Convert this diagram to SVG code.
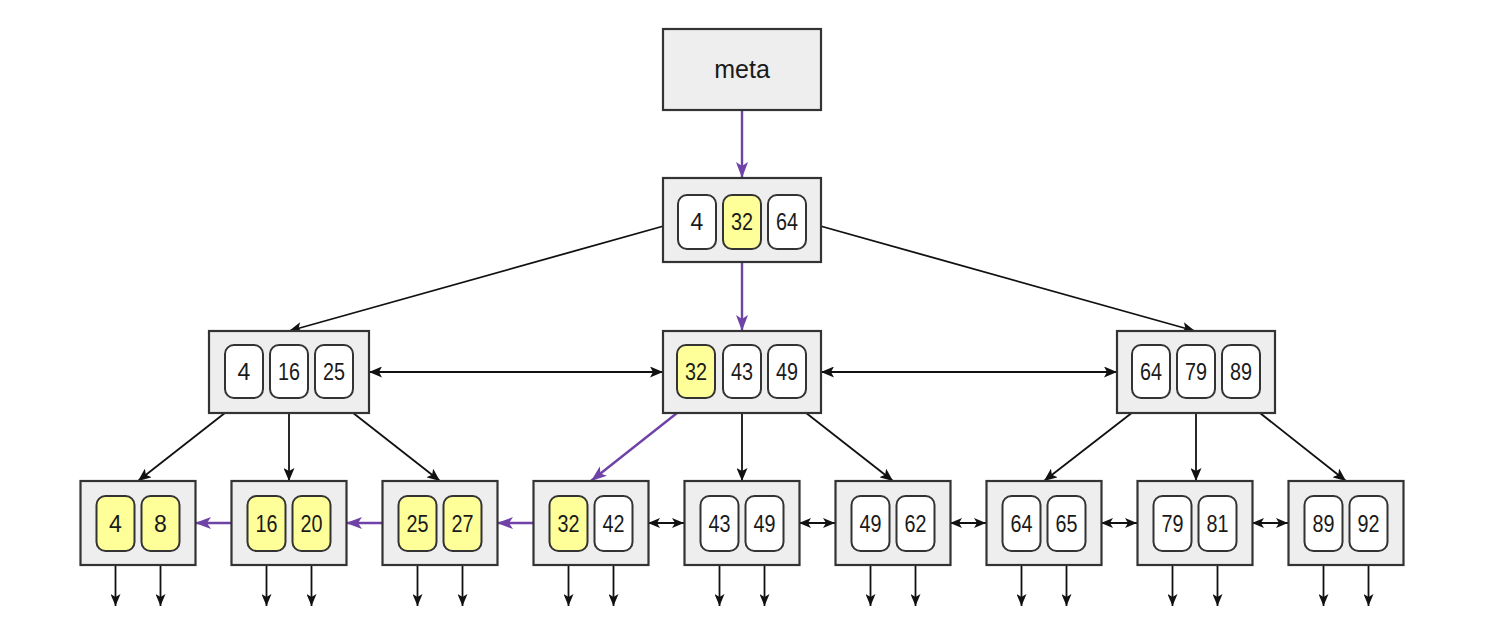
<svg xmlns="http://www.w3.org/2000/svg" width="1498" height="638" viewBox="0 0 1498 638">
<style>
.box{fill:#eeeeee;stroke:#333333;stroke-width:2.2}
.k{fill:#ffffff;stroke:#333333;stroke-width:2}
.y{fill:#ffff99}
.t{font-family:"Liberation Sans",Arial,sans-serif;font-size:23px;fill:#1a1a1a;text-anchor:middle}
.m{font-family:"Liberation Sans",Arial,sans-serif;font-size:25px;fill:#1a1a1a;text-anchor:middle}
.c{fill:none;stroke:#111111;stroke-width:1.8}
.p{fill:none;stroke:#6f42a8;stroke-width:2.4}
</style>
<defs>
<marker id="ab" markerUnits="userSpaceOnUse" markerWidth="13" markerHeight="11" refX="13" refY="5.5" orient="auto-start-reverse" viewBox="0 0 13 11">
<path d="M0,0 L13,5.5 L0,11 L3,5.5 z" fill="#111111"/>
</marker>
<marker id="as" markerUnits="userSpaceOnUse" markerWidth="12" markerHeight="10" refX="12" refY="5" orient="auto-start-reverse" viewBox="0 0 12 10">
<path d="M0,0 L12,5 L0,10 L3,5 z" fill="#111111"/>
</marker>
<marker id="ap" markerUnits="userSpaceOnUse" markerWidth="16" markerHeight="12" refX="16" refY="6" orient="auto" viewBox="0 0 16 12">
<path d="M0,0 L16,6 L0,12 L4,6 z" fill="#6f42a8"/>
</marker>
</defs>

<g id="connectors">
<line class="p" x1="742" y1="110" x2="742" y2="178" marker-end="url(#ap)"/>
<line class="p" x1="742" y1="249" x2="742" y2="331" marker-end="url(#ap)"/>
<line class="c" x1="678" y1="222" x2="289" y2="331" marker-end="url(#ab)"/>
<line class="c" x1="806" y1="222" x2="1195" y2="331" marker-end="url(#ab)"/>
<line class="c" x1="369" y1="372" x2="663" y2="372" marker-start="url(#ab)" marker-end="url(#ab)"/>
<line class="c" x1="821" y1="372" x2="1117" y2="372" marker-start="url(#ab)" marker-end="url(#ab)"/>
<line class="c" x1="244" y1="398" x2="138" y2="481" marker-end="url(#ab)"/>
<line class="c" x1="289" y1="398" x2="289" y2="481" marker-end="url(#ab)"/>
<line class="c" x1="334" y1="398" x2="440" y2="481" marker-end="url(#ab)"/>
<line class="p" x1="696" y1="398" x2="591" y2="481" marker-end="url(#ap)"/>
<line class="c" x1="742" y1="398" x2="742" y2="481" marker-end="url(#ab)"/>
<line class="c" x1="787" y1="398" x2="893" y2="481" marker-end="url(#ab)"/>
<line class="c" x1="1151" y1="398" x2="1044" y2="481" marker-end="url(#ab)"/>
<line class="c" x1="1196" y1="398" x2="1196" y2="481" marker-end="url(#ab)"/>
<line class="c" x1="1241" y1="398" x2="1346" y2="481" marker-end="url(#ab)"/>
<line class="p" x1="231" y1="523" x2="195" y2="523" marker-end="url(#ap)"/>
<line class="p" x1="382" y1="523" x2="346" y2="523" marker-end="url(#ap)"/>
<line class="p" x1="533" y1="523" x2="497" y2="523" marker-end="url(#ap)"/>
<line class="c" x1="648" y1="523" x2="684" y2="523" marker-start="url(#as)" marker-end="url(#as)"/>
<line class="c" x1="799" y1="523" x2="835" y2="523" marker-start="url(#as)" marker-end="url(#as)"/>
<line class="c" x1="950" y1="523" x2="986" y2="523" marker-start="url(#as)" marker-end="url(#as)"/>
<line class="c" x1="1101" y1="523" x2="1137" y2="523" marker-start="url(#as)" marker-end="url(#as)"/>
<line class="c" x1="1252" y1="523" x2="1288" y2="523" marker-start="url(#as)" marker-end="url(#as)"/>
<g id="leaf-pointers">
<line class="c" x1="115.5" y1="551" x2="115.5" y2="606" marker-end="url(#as)"/>
<line class="c" x1="160.5" y1="551" x2="160.5" y2="606" marker-end="url(#as)"/>
<line class="c" x1="266.5" y1="551" x2="266.5" y2="606" marker-end="url(#as)"/>
<line class="c" x1="311.5" y1="551" x2="311.5" y2="606" marker-end="url(#as)"/>
<line class="c" x1="417.5" y1="551" x2="417.5" y2="606" marker-end="url(#as)"/>
<line class="c" x1="462.5" y1="551" x2="462.5" y2="606" marker-end="url(#as)"/>
<line class="c" x1="568.5" y1="551" x2="568.5" y2="606" marker-end="url(#as)"/>
<line class="c" x1="613.5" y1="551" x2="613.5" y2="606" marker-end="url(#as)"/>
<line class="c" x1="719.5" y1="551" x2="719.5" y2="606" marker-end="url(#as)"/>
<line class="c" x1="764.5" y1="551" x2="764.5" y2="606" marker-end="url(#as)"/>
<line class="c" x1="870.5" y1="551" x2="870.5" y2="606" marker-end="url(#as)"/>
<line class="c" x1="915.5" y1="551" x2="915.5" y2="606" marker-end="url(#as)"/>
<line class="c" x1="1021.5" y1="551" x2="1021.5" y2="606" marker-end="url(#as)"/>
<line class="c" x1="1066.5" y1="551" x2="1066.5" y2="606" marker-end="url(#as)"/>
<line class="c" x1="1172.5" y1="551" x2="1172.5" y2="606" marker-end="url(#as)"/>
<line class="c" x1="1217.5" y1="551" x2="1217.5" y2="606" marker-end="url(#as)"/>
<line class="c" x1="1323.5" y1="551" x2="1323.5" y2="606" marker-end="url(#as)"/>
<line class="c" x1="1368.5" y1="551" x2="1368.5" y2="606" marker-end="url(#as)"/>
</g>
</g>

<g id="meta">
<rect class="box" x="663" y="29" width="158" height="81"/>
<text class="m" x="742" y="78">meta</text>
</g>

<g id="root">
<rect class="box" x="663" y="178" width="158" height="84"/>
<rect class="k" x="678" y="195" width="38" height="54" rx="9"/>
<rect class="k y" x="723" y="195" width="38" height="54" rx="9"/>
<rect class="k" x="768" y="195" width="38" height="54" rx="9"/>
<text class="t" x="697" y="230">4</text>
<text class="t" x="742" y="230" textLength="22" lengthAdjust="spacingAndGlyphs">32</text>
<text class="t" x="787" y="230" textLength="22" lengthAdjust="spacingAndGlyphs">64</text>
</g>

<g id="inner-left">
<rect class="box" x="209" y="331" width="160" height="82"/>
<rect class="k" x="225" y="345" width="38" height="53" rx="9"/>
<rect class="k" x="270" y="345" width="38" height="53" rx="9"/>
<rect class="k" x="315" y="345" width="38" height="53" rx="9"/>
<text class="t" x="244" y="380">4</text>
<text class="t" x="289" y="380" textLength="22" lengthAdjust="spacingAndGlyphs">16</text>
<text class="t" x="334" y="380" textLength="22" lengthAdjust="spacingAndGlyphs">25</text>
</g>

<g id="inner-mid">
<rect class="box" x="663" y="331" width="158" height="82"/>
<rect class="k y" x="677" y="345" width="38" height="53" rx="9"/>
<rect class="k" x="723" y="345" width="38" height="53" rx="9"/>
<rect class="k" x="768" y="345" width="38" height="53" rx="9"/>
<text class="t" x="696" y="380" textLength="22" lengthAdjust="spacingAndGlyphs">32</text>
<text class="t" x="742" y="380" textLength="22" lengthAdjust="spacingAndGlyphs">43</text>
<text class="t" x="787" y="380" textLength="22" lengthAdjust="spacingAndGlyphs">49</text>
</g>

<g id="inner-right">
<rect class="box" x="1117" y="331" width="158" height="82"/>
<rect class="k" x="1132" y="345" width="38" height="53" rx="9"/>
<rect class="k" x="1177" y="345" width="38" height="53" rx="9"/>
<rect class="k" x="1222" y="345" width="38" height="53" rx="9"/>
<text class="t" x="1151" y="380" textLength="22" lengthAdjust="spacingAndGlyphs">64</text>
<text class="t" x="1196" y="380" textLength="22" lengthAdjust="spacingAndGlyphs">79</text>
<text class="t" x="1241" y="380" textLength="22" lengthAdjust="spacingAndGlyphs">89</text>
</g>

<g id="leaf1">
<rect class="box" x="80.5" y="481" width="115" height="84"/>
<rect class="k y" x="96.5" y="496" width="38" height="55" rx="9"/>
<rect class="k y" x="141.5" y="496" width="38" height="55" rx="9"/>
<text class="t" x="115.5" y="532">4</text>
<text class="t" x="160.5" y="532">8</text>
</g>
<g id="leaf2">
<rect class="box" x="231.5" y="481" width="115" height="84"/>
<rect class="k y" x="247.5" y="496" width="38" height="55" rx="9"/>
<rect class="k y" x="292.5" y="496" width="38" height="55" rx="9"/>
<text class="t" x="266.5" y="532" textLength="22" lengthAdjust="spacingAndGlyphs">16</text>
<text class="t" x="311.5" y="532" textLength="22" lengthAdjust="spacingAndGlyphs">20</text>
</g>
<g id="leaf3">
<rect class="box" x="382.5" y="481" width="115" height="84"/>
<rect class="k y" x="398.5" y="496" width="38" height="55" rx="9"/>
<rect class="k y" x="443.5" y="496" width="38" height="55" rx="9"/>
<text class="t" x="417.5" y="532" textLength="22" lengthAdjust="spacingAndGlyphs">25</text>
<text class="t" x="462.5" y="532" textLength="22" lengthAdjust="spacingAndGlyphs">27</text>
</g>
<g id="leaf4">
<rect class="box" x="533.5" y="481" width="115" height="84"/>
<rect class="k y" x="549.5" y="496" width="38" height="55" rx="9"/>
<rect class="k" x="594.5" y="496" width="38" height="55" rx="9"/>
<text class="t" x="568.5" y="532" textLength="22" lengthAdjust="spacingAndGlyphs">32</text>
<text class="t" x="613.5" y="532" textLength="22" lengthAdjust="spacingAndGlyphs">42</text>
</g>
<g id="leaf5">
<rect class="box" x="684.5" y="481" width="115" height="84"/>
<rect class="k" x="700.5" y="496" width="38" height="55" rx="9"/>
<rect class="k" x="745.5" y="496" width="38" height="55" rx="9"/>
<text class="t" x="719.5" y="532" textLength="22" lengthAdjust="spacingAndGlyphs">43</text>
<text class="t" x="764.5" y="532" textLength="22" lengthAdjust="spacingAndGlyphs">49</text>
</g>
<g id="leaf6">
<rect class="box" x="835.5" y="481" width="115" height="84"/>
<rect class="k" x="851.5" y="496" width="38" height="55" rx="9"/>
<rect class="k" x="896.5" y="496" width="38" height="55" rx="9"/>
<text class="t" x="870.5" y="532" textLength="22" lengthAdjust="spacingAndGlyphs">49</text>
<text class="t" x="915.5" y="532" textLength="22" lengthAdjust="spacingAndGlyphs">62</text>
</g>
<g id="leaf7">
<rect class="box" x="986.5" y="481" width="115" height="84"/>
<rect class="k" x="1002.5" y="496" width="38" height="55" rx="9"/>
<rect class="k" x="1047.5" y="496" width="38" height="55" rx="9"/>
<text class="t" x="1021.5" y="532" textLength="22" lengthAdjust="spacingAndGlyphs">64</text>
<text class="t" x="1066.5" y="532" textLength="22" lengthAdjust="spacingAndGlyphs">65</text>
</g>
<g id="leaf8">
<rect class="box" x="1137.5" y="481" width="115" height="84"/>
<rect class="k" x="1153.5" y="496" width="38" height="55" rx="9"/>
<rect class="k" x="1198.5" y="496" width="38" height="55" rx="9"/>
<text class="t" x="1172.5" y="532" textLength="22" lengthAdjust="spacingAndGlyphs">79</text>
<text class="t" x="1217.5" y="532" textLength="22" lengthAdjust="spacingAndGlyphs">81</text>
</g>
<g id="leaf9">
<rect class="box" x="1288.5" y="481" width="115" height="84"/>
<rect class="k" x="1304.5" y="496" width="38" height="55" rx="9"/>
<rect class="k" x="1349.5" y="496" width="38" height="55" rx="9"/>
<text class="t" x="1323.5" y="532" textLength="22" lengthAdjust="spacingAndGlyphs">89</text>
<text class="t" x="1368.5" y="532" textLength="22" lengthAdjust="spacingAndGlyphs">92</text>
</g>
</svg>
